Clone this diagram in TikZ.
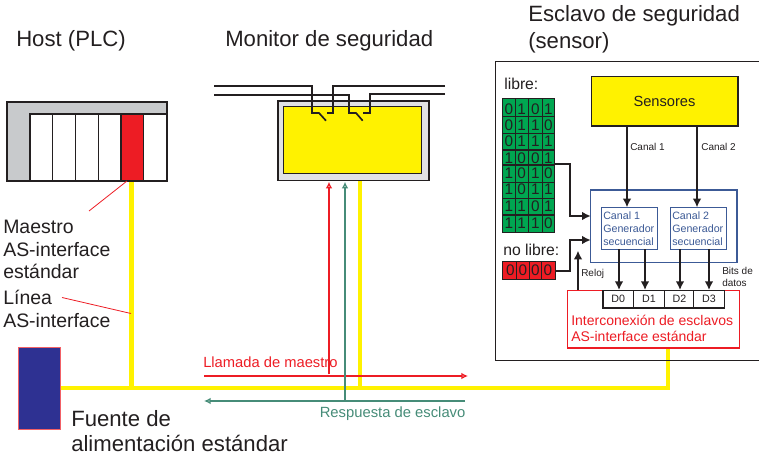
\documentclass[tikz,border=0pt]{standalone}
\usepackage{fontspec}
\setmainfont{Liberation Sans}
\usetikzlibrary{arrows.meta}
\definecolor{ylw}{RGB}{255,242,0}
\definecolor{grn}{RGB}{0,166,81}
\definecolor{redc}{RGB}{237,28,36}
\definecolor{teal2}{RGB}{70,140,120}
\definecolor{blu}{RGB}{60,90,150}
\definecolor{navy2}{RGB}{46,49,146}
\definecolor{gry}{RGB}{200,202,204}
\definecolor{ink}{RGB}{35,31,32}
\tikzset{
 x=0.75pt,y=-0.75pt,
 lbl/.style={inner sep=0,anchor=base west,text=ink,font=\fontsize{16.6}{18}\selectfont},
 sidelbl/.style={inner sep=0,anchor=base west,text=ink,font=\fontsize{14.6}{18}\selectfont},
 midlbl/.style={inner sep=0,anchor=base west,text=ink,font=\fontsize{11.8}{14}\selectfont},
 small/.style={inner sep=0,anchor=base west,text=ink,font=\fontsize{7.5}{10}\selectfont},
 genlbl/.style={inner sep=0,anchor=base west,text=blu,font=\fontsize{8}{10}\selectfont},
 redlbl/.style={inner sep=0,anchor=base west,text=redc,font=\fontsize{11.05}{12}\selectfont},
 ifacelbl/.style={inner sep=0,anchor=base west,text=redc,font=\fontsize{10.5}{12}\selectfont},
 grnlbl/.style={inner sep=0,anchor=base west,text=teal2,font=\fontsize{11.1}{12}\selectfont},
 blk/.style={draw=ink,line width=1.25pt,-{Latex[length=6.5pt,width=6.5pt]}},
 sigred/.style={draw=redc,line width=1.25pt,-{Latex[open,length=5pt,width=5pt]}},
 siggrn/.style={draw=teal2,line width=1.25pt,-{Latex[open,length=5pt,width=5pt]}},
 bus/.style={draw=ylw,line width=3.6pt},
 bit/.style={inner sep=0,text=ink,font=\fontsize{11.5}{12}\selectfont},
 bitbox/.style={draw=ink,line width=0.8pt},
 dbox/.style={draw=ink,line width=0.9pt,fill=white,minimum width=23pt,minimum height=13pt,inner sep=0,anchor=north west,font=\fontsize{8}{10}\selectfont,text=ink},
 gen/.style={draw=blu,line width=0.8pt,fill=white,minimum width=42pt,minimum height=31.5pt,inner sep=0,anchor=north west},
 wire/.style={draw=ink,line width=1.25pt},
 leader/.style={draw=redc,line width=0.6pt},
 slotbox/.style={draw=ink,line width=1pt,fill=white},
}
\begin{document}
\begin{tikzpicture}
\useasboundingbox (0,0) rectangle (759,456);
% titles
\node[lbl] (thost) at (16,47) {Host (PLC)};
\node[lbl] (tmon) at (225,47) {Monitor de seguridad};
\node[lbl] (tesc1) at (528,22) {Esclavo de seguridad};
\node[lbl] (tesc2) at (528,49) {(sensor)};
% yellow bus
\coordinate (busL) at (60,388);
\coordinate (busR) at (668,388);
\coordinate (busUp) at (668,347);
\coordinate (busH) at (131.5,388);
\coordinate (busM) at (360,388);
\coordinate (hostOut) at (131.5,181);
\coordinate (monOut) at (360,180);
\draw[bus] (busL) -- (busR) -- (busUp);
\draw[bus] (hostOut) -- (busH);
\draw[bus] (monOut) -- (busM);
% host
\draw[ink,line width=1.2pt,fill=gry] (7,102) rectangle (167,181);
\foreach \a/\b in {30/52.7,52.7/75.4,75.4/98.2,98.2/121,143.5/167}{\draw[slotbox] (\a,114) rectangle (\b,181);}
\node[draw=ink,line width=1.2pt,fill=redc,minimum width=17pt,minimum height=50pt,inner sep=0] (master) at (132.2,147.5) {};
\coordinate (mleader) at (89,211);
\coordinate (mstart) at (127,181);
\draw[leader] (mstart) -- (mleader);
% monitor
\draw[ink,line width=1.2pt,fill=gry!55] (277.7,101) rectangle (428.7,180.3);
\draw[ink,line width=1pt,fill=ylw] (283.7,106.7) rectangle (421.7,173.7);
\draw[wire] (214,86) -- (312,86) -- (312,113) -- (319,113) -- (326,120.7);
\draw[wire] (214,95) -- (349,95) -- (349,113) -- (356,113) -- (362.7,120.7);
\draw[wire] (445,86) -- (333,86) -- (333,113) -- (326.7,113);
\draw[wire] (445,94) -- (370,94) -- (370,113) -- (363.3,113);
% signal lines
\coordinate (callL) at (204,376);
\coordinate (callR) at (468,376);
\coordinate (respR) at (465,401);
\coordinate (respL) at (204,401);
\coordinate (callUp0) at (329,374.3);
\coordinate (callUp1) at (329,181.7);
\coordinate (respUp0) at (345,401);
\coordinate (respUp1) at (345,181.7);
\draw[sigred] (callL) -- (callR);
\draw[siggrn] (respR) -- (respL);
\draw[sigred] (callUp0) -- (callUp1);
\draw[siggrn] (respUp0) -- (respUp1);
% left labels
\node[sidelbl] (lm1) at (3,233) {Maestro};
\node[sidelbl] (lm2) at (3,256) {AS-interface};
\node[sidelbl] (lm3) at (3,278) {estándar};
\node[sidelbl] (ll1) at (3,304) {Línea};
\node[sidelbl] (ll2) at (3,327) {AS-interface};
\coordinate (la) at (62,297.5);
\coordinate (lb) at (131,313.5);
\draw[leader] (la) -- (lb);
\node[draw=redc!70,line width=0.7pt,fill=navy2,minimum width=31.5pt,minimum height=62pt,inner sep=0] (psu) at (39,388.5) {};
\node[lbl] (f1) at (71,426) {Fuente de};
\node[lbl] (f2) at (71,451) {alimentación estándar};
\node[redlbl] (call) at (203,367) {Llamada de maestro};
\node[grnlbl] (resp) at (319.5,417) {Respuesta de esclavo};
% slave frame
\draw[ink,line width=1.1pt] (759,61.7) -- (495.7,61.7) -- (495.7,360.7) -- (759,360.7);
\node[midlbl] (libre) at (504,90) {libre:};
\node[midlbl] (nolibre) at (503,255) {no libre:};
% free codes
\fill[grn] (502.7,98.7) rectangle (554.3,232.3);
\draw[bitbox] (502.7,98.7) rectangle (554.3,232.3);
\foreach \y in {116.7,133.3,150,165,182.3,198.3,215}{\draw[bitbox] (502.7,\y) -- (554.3,\y);}
\foreach \x in {515.7,528.3,542.3}{\draw[bitbox] (\x,98.7) -- (\x,232.3);}
\foreach \r/\cA/\cB/\cC/\cD in {109/0/1/0/1,125.5/0/1/1/0,141.7/0/1/1/1,158/1/0/0/1,173.5/1/0/1/0,189.5/1/0/1/1,206/1/1/0/1,223.5/1/1/1/0}{
 \node[bit] at (509,\r) {\cA};
 \node[bit] at (521.7,\r) {\cB};
 \node[bit] at (535.5,\r) {\cC};
 \node[bit] at (548.3,\r) {\cD};
}
% not free
\fill[redc] (502.7,261.7) rectangle (555.7,279.3);
\draw[bitbox] (502.7,261.7) rectangle (555.7,279.3);
\foreach \x in {516.7,529.3,541.7}{\draw[bitbox] (\x,261.7) -- (\x,279.3);}
\foreach \x in {510.5,522.8,535.5,548}{\node[bit] at (\x,270.5) {0};}
% sensors
\node[draw=ink,line width=1pt,fill=ylw,minimum width=110pt,minimum height=37pt,inner sep=0,text=ink,font=\fontsize{11}{12}\selectfont] (sens) at (664.5,101.5) {Sensores};
% sequence block
\draw[blu,line width=0.9pt] (590.7,190) rectangle (737,262.3);
\node[gen] (g1) at (600.7,207.3) {};
\node[gen] (g2) at (670,207.3) {};
\node[genlbl] at (603,219) {Canal 1};
\node[genlbl] at (603,232.5) {Generador};
\node[genlbl] at (603,245) {secuencial};
\node[genlbl] at (672,219) {Canal 2};
\node[genlbl] at (672,232.5) {Generador};
\node[genlbl] at (672,245) {secuencial};
\coordinate (s1) at (627,126);
\coordinate (s2) at (697,126);
\coordinate (t1) at (627,207.3);
\coordinate (t2) at (697,207.3);
\draw[blk] (s1) -- (t1);
\draw[blk] (s2) -- (t2);
\node[small] (c1) at (630,151) {Canal 1};
\node[small] (c2) at (701,151) {Canal 2};
% code arrows
\coordinate (fr1) at (554.3,164);
\coordinate (fr2) at (570,164);
\coordinate (fr3) at (570,216);
\coordinate (fr4) at (590.7,216);
\coordinate (nl1) at (555.7,271);
\coordinate (nl2) at (570,271);
\coordinate (nl3) at (570,240);
\coordinate (nl4) at (590.7,240);
\draw[blk] (fr1) -- (fr2) -- (fr3) -- (fr4);
\draw[blk] (nl1) -- (nl2) -- (nl3) -- (nl4);
% interface box
\node[draw=redc,line width=0.9pt,fill=white,minimum width=129pt,minimum height=43pt,inner sep=0,anchor=north west] (iface) at (566.7,290) {};
\coordinate (rk0) at (578,290);
\coordinate (rk1) at (578,250.7);
\draw[blk] (rk0) -- (rk1);
\node[small] (reloj) at (581,276) {Reloj};
\node[dbox] (d0) at (602.3,290) {D0};
\node[dbox] (d1) at (633,290) {D1};
\node[dbox] (d2) at (663.5,290) {D2};
\node[dbox] (d3) at (693,290) {D3};
\coordinate (a0) at (619,249.3);
\coordinate (a1) at (645,249.3);
\coordinate (a2) at (680,249.3);
\coordinate (a3) at (709,249.3);
\draw[blk] (a0) -- (a0 |- d0.north);
\draw[blk] (a1) -- (a1 |- d1.north);
\draw[blk] (a2) -- (a2 |- d2.north);
\draw[blk] (a3) -- (a3 |- d3.north);
\node[small] (b1) at (722,274) {Bits de};
\node[small] (b2) at (722,286) {datos};
\node[ifacelbl] (i1) at (571,325) {Interconexión de esclavos};
\node[ifacelbl] (i2) at (571,341) {AS-interface estándar};
\end{tikzpicture}
\end{document}
